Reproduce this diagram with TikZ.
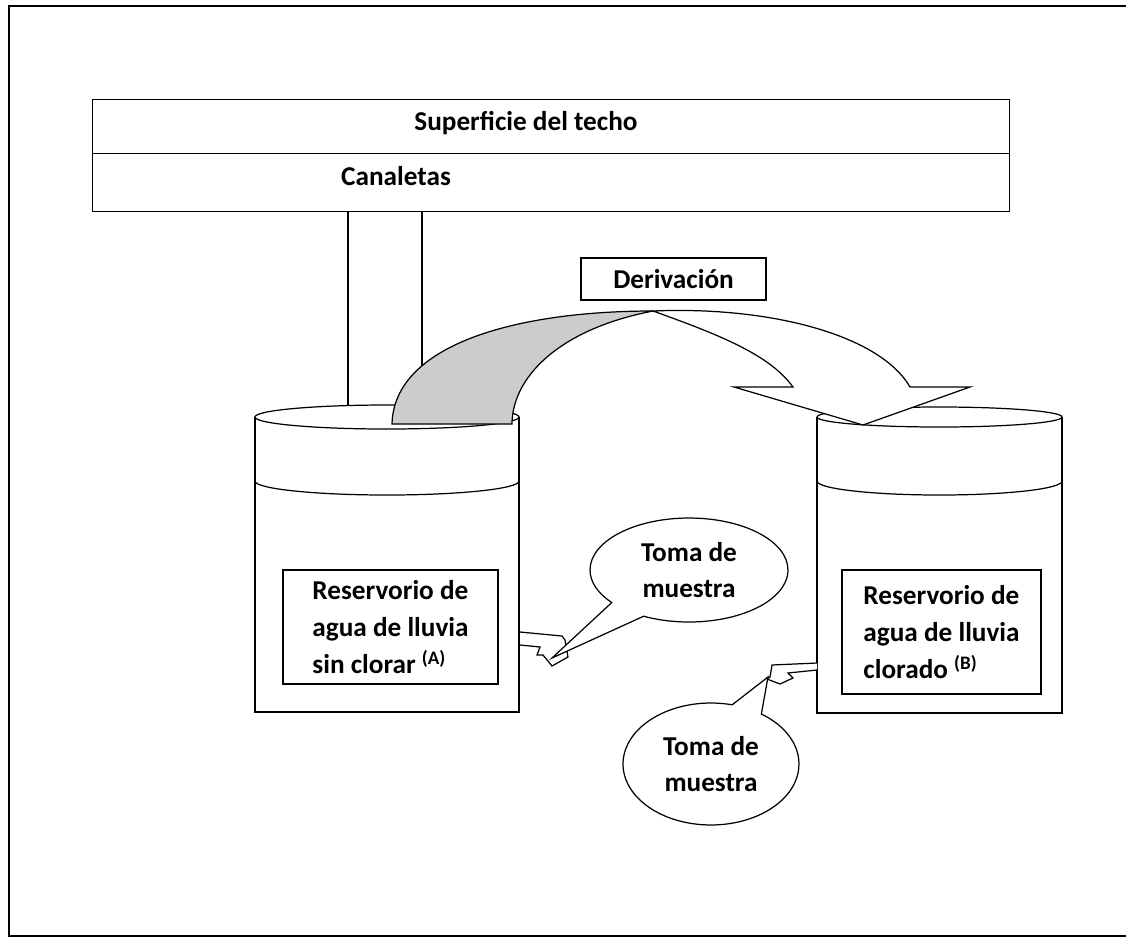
\documentclass[tikz,border=0pt]{standalone}
\usepackage{fontspec}
\setmainfont{Carlito}
\usepackage{tikz}
\usetikzlibrary{shapes.callouts}
\definecolor{grisflecha}{HTML}{CCCCCC}

\begin{document}
\begin{tikzpicture}[x=0.02cm, y=-0.02cm, line width=0.7pt,
    font=\fontsize{15.5}{21}\selectfont\bfseries,
    caja/.style={draw, fill=white, align=left},
    globo/.style={ellipse callout, draw, fill=white, align=center, inner sep=0pt}]
\useasboundingbox (0,0) rectangle (1126,938);
\draw (1130,6) -- (9,6) -- (9,936) -- (1130,936);

% techo y canaletas
\node [draw, anchor=north west, minimum width=18.34cm, minimum height=1.08cm] (techo) at (92,99) {};
\node [draw, anchor=north west, minimum width=18.34cm, minimum height=1.16cm] (canal) at (92,153) {};
\node (tsup) at (526,123) {Superficie del techo};
\node (tcan) at (396,176) {Canaletas};
\node [draw, minimum width=3.7cm, minimum height=0.84cm] (deriv) at (673.5,279) {Derivación};

% reservorio A
\draw [fill=white] (255,417) -- (255,712) -- (519,712) -- (519,417);
\draw [fill=white] (387,417) ellipse [x radius=132, y radius=12];
\draw (255,481) arc [start angle=180, end angle=0, x radius=132, y radius=14];
% reservorio B
\draw [fill=white] (817,417) -- (817,713) -- (1062,713) -- (1062,417);
\draw [fill=white] (939.5,417) ellipse [x radius=122.5, y radius=10];
\draw (817,481) arc [start angle=180, end angle=0, x radius=122.5, y radius=14];

% bajantes
\coordinate (tubo1) at (348,405.5);
\coordinate (tubo2) at (422,405.4);
\draw (tubo1 |- canal.south) -- (tubo1);
\draw (tubo2 |- canal.south) -- (tubo2);

% flecha de derivacion
\draw [fill=grisflecha] (392,424) .. controls (394,345) and (515,311) .. (653,311)
    .. controls (555,330) and (512,380) .. (512,424) -- cycle;
\draw [fill=white] (653,311) .. controls (720,335) and (770,355) .. (793,387)
    -- (734,387) -- (863,425) -- (970,387) -- (910,387)
    .. controls (880,335) and (770,306) .. (653,311) -- cycle;

\node [caja, minimum width=4.3cm, minimum height=2.28cm] (resA) at (390.5,627)
    {Reservorio de\\agua de lluvia\\sin clorar \textsuperscript{(A)}};
\node [caja, minimum width=3.98cm, minimum height=2.48cm] (resB) at (941.5,632)
    {Reservorio de\\agua de lluvia\\clorado \textsuperscript{(B)}};

% grifos
\draw [fill=white] (520,632) -- (562,636) -- (565,640) -- (568,657) -- (552,666) -- (543,655)
    -- (537,655) -- (540,647) -- (520,645);
\draw [fill=white] (817,663) -- (772,665) -- (770,677) -- (767,679) -- (780,684) -- (793,678)
    -- (788,673) -- (817,670);
\coordinate (puntaA) at (552,658);
\coordinate (puntaB) at (768,677);

\node [globo, minimum width=3.96cm, minimum height=2.08cm, callout absolute pointer={(puntaA)},
    callout pointer arc=24] (tomaA) at (689,570) {Toma de\\muestra};
\node [globo, minimum width=3.52cm, minimum height=2.44cm, callout absolute pointer={(puntaB)},
    callout pointer arc=21] (tomaB) at (711,764) {Toma de\\muestra};
\end{tikzpicture}
\end{document}
